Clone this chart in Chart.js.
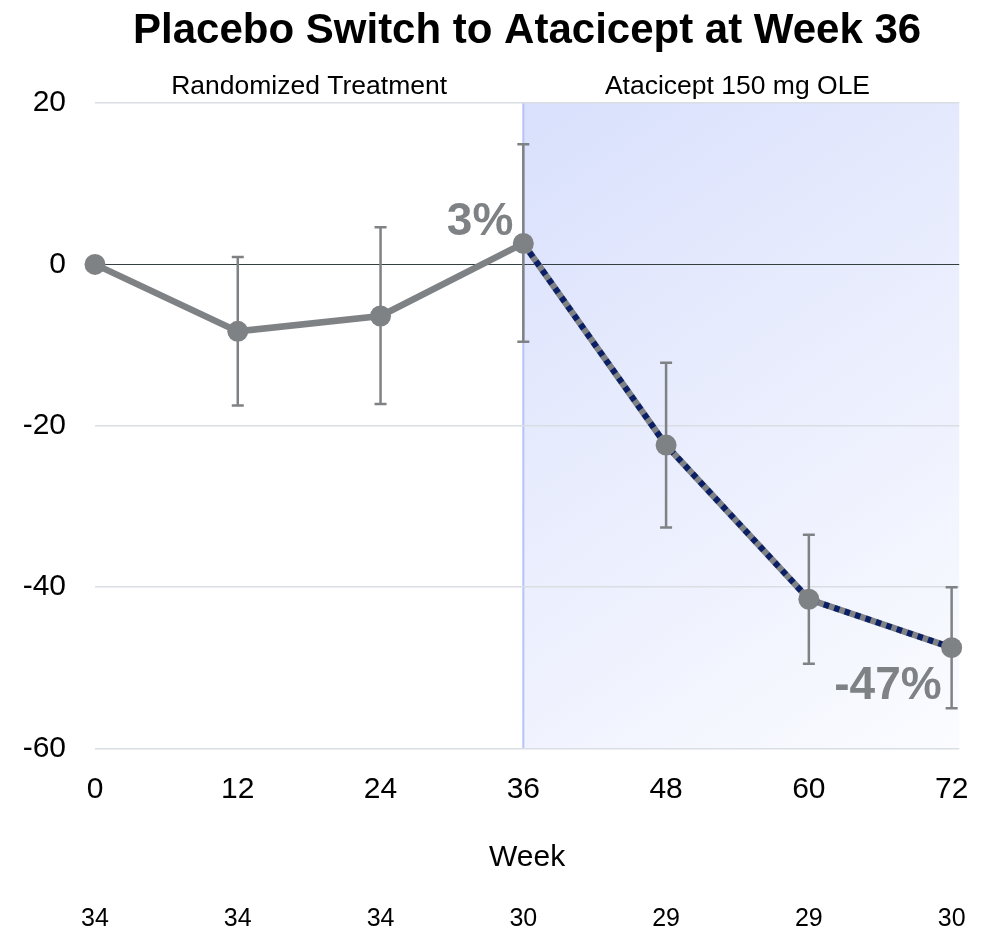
<!DOCTYPE html>
<html>
<head>
<meta charset="utf-8">
<script src="https://cdn.jsdelivr.net/npm/chart.js@4.4.1/dist/chart.umd.min.js"></script>
<style>
  html, body { margin: 0; padding: 0; background: #fff; }
  #wrap { width: 984px; height: 932px; position: relative; }
</style>
</head>
<body>
<div id="wrap"><canvas id="chart"></canvas></div>
<script>
'use strict';

// ---------------------------------------------------------------------------
// Data
// ---------------------------------------------------------------------------
const weeks      = [0, 12, 24, 36, 48, 60, 72];
const meanChange = [0, -8.3, -6.4, 2.6, -22.4, -41.5, -47.5];
const errUpper   = [null, 0.9, 4.6, 14.9, -12.2, -33.5, -40.0];
const errLower   = [null, -17.5, -17.3, -9.6, -32.6, -49.5, -55.0];
const nPatients  = [34, 34, 34, 30, 29, 29, 30];
const pctLabels  = ['', '', '', '3%', '', '', '-47%'];
const xTicks     = [0, 12, 24, 36, 48, 60, 72];
const yTicks     = [-60, -40, -20, 0, 20];
const phaseNames = ['Randomized Treatment', 'Atacicept 150 mg OLE'];
const phaseEdges = [0, 36, 72];
const switchWeek = 36;
const chartTitle = 'Placebo Switch to Atacicept at Week 36';

// ---------------------------------------------------------------------------
// Styles
// ---------------------------------------------------------------------------
const FONT   = "'Liberation Sans', Arial, Helvetica, sans-serif";
const GRAY   = '#7f8285';
const NAVY   = '#0b1f66';
const GRID   = '#d9dee3';
const ZERO   = '#34403f';

const pts = weeks.map((w, i) => ({ x: w, y: meanChange[i] }));
const olePts = weeks.map((w, i) => ({ x: w, y: w >= switchWeek ? meanChange[i] : null }));

// shaded OLE area, separator, error bars, labels
const decorPlugin = {
    id: 'decor',
    beforeDraw(chart) {
        const { ctx, chartArea: a, scales: { x } } = chart;
        const xs = x.getPixelForValue(switchWeek);
        ctx.save();
        const g = ctx.createLinearGradient(xs, a.top, a.right, a.bottom);
        g.addColorStop(0, '#d9e0fc');
        g.addColorStop(1, '#fbfcff');
        ctx.fillStyle = g;
        ctx.fillRect(xs, a.top, a.right - xs, a.bottom - a.top);
        ctx.strokeStyle = '#b6c3f4';
        ctx.lineWidth = 2;
        ctx.beginPath();
        ctx.moveTo(xs, a.top);
        ctx.lineTo(xs, a.bottom);
        ctx.stroke();
        ctx.restore();
    },
    beforeDatasetsDraw(chart) {
        const { ctx, scales: { x, y } } = chart;
        ctx.save();
        ctx.strokeStyle = GRAY;
        ctx.lineWidth = 2.5;
        weeks.forEach((w, i) => {
            if (errUpper[i] == null) return;
            const px = x.getPixelForValue(w);
            const yt = y.getPixelForValue(errUpper[i]);
            const yb = y.getPixelForValue(errLower[i]);
            ctx.beginPath();
            ctx.moveTo(px, yt); ctx.lineTo(px, yb);
            ctx.moveTo(px - 6, yt); ctx.lineTo(px + 6, yt);
            ctx.moveTo(px - 6, yb); ctx.lineTo(px + 6, yb);
            ctx.stroke();
        });
        ctx.restore();
    },
    afterDatasetsDraw(chart) {
        const { ctx, scales: { x, y } } = chart;
        ctx.save();
        ctx.fillStyle = GRAY;
        ctx.font = `bold 46px ${FONT}`;
        ctx.textAlign = 'right';
        ctx.textBaseline = 'alphabetic';
        pctLabels.forEach((t, i) => {
            if (!t) return;
            const px = x.getPixelForValue(weeks[i]);
            const py = y.getPixelForValue(meanChange[i]);
            // above-left when rising, below-left when falling
            const dy = meanChange[i] >= 0 ? -8 : 51;
            ctx.fillText(t, px - 10, py + dy);
        });
        ctx.restore();
    },
    afterDraw(chart) {
        const { ctx, chartArea: a, scales: { x } } = chart;
        ctx.save();
        ctx.fillStyle = '#000';
        ctx.textAlign = 'center';
        ctx.textBaseline = 'middle';
        ctx.font = `bold 42px ${FONT}`;
        ctx.fillText(chartTitle, (a.left + a.right) / 2, 31);
        ctx.font = `26.5px ${FONT}`;
        phaseNames.forEach((t, i) => {
            const cx = x.getPixelForValue((phaseEdges[i] + phaseEdges[i + 1]) / 2);
            ctx.fillText(t, cx, a.top - 16);
        });
        ctx.font = `25px ${FONT}`;
        nPatients.forEach((n, i) => {
            ctx.fillText(String(n), x.getPixelForValue(weeks[i]), 919);
        });
        ctx.restore();
    }
};

new Chart(document.getElementById('chart'), {
    type: 'line',
    data: {
        datasets: [
            {   // markers on top
                data: pts,
                showLine: false,
                pointRadius: 10.5,
                pointBackgroundColor: GRAY,
                pointBorderWidth: 0,
                clip: false,
            },
            {   // navy dashes over the OLE part
                data: olePts,
                borderColor: NAVY,
                borderWidth: 6,
                borderDash: [5.5, 5.5],
                pointRadius: 0,
                spanGaps: false,
                clip: false,
            },
            {   // gray base line
                data: pts,
                borderColor: GRAY,
                borderWidth: 6.5,
                pointRadius: 0,
                clip: false,
            },
        ],
    },
    options: {
        responsive: true,
        maintainAspectRatio: false,
        animation: false,
        events: [],
        layout: { padding: { left: 0, right: 21, top: 103, bottom: 56 } },
        plugins: { legend: { display: false }, title: { display: false }, tooltip: { enabled: false } },
        scales: {
            x: {
                type: 'linear',
                min: 0,
                max: 72.64,
                afterBuildTicks: (s) => { s.ticks = xTicks.map(v => ({ value: v })); },
                grid: { display: false },
                border: { display: false },
                ticks: { font: { family: FONT, size: 30 }, color: '#000', padding: 15.5, maxRotation: 0 },
                title: {
                    display: true, text: 'Week', color: '#000',
                    font: { family: FONT, size: 30 }, padding: { top: 16.5, bottom: 0 },
                },
            },
            y: {
                min: -60,
                max: 20,
                afterBuildTicks: (s) => { s.ticks = yTicks.map(v => ({ value: v })); },
                afterFit: (s) => { s.width = 95; },
                grid: {
                    drawTicks: false,
                    color: (c) => c.tick && c.tick.value === 0 ? ZERO : GRID,
                    lineWidth: (c) => c.tick && c.tick.value === 0 ? 1 : 1.5,
                },
                border: { display: false },
                ticks: { font: { family: FONT, size: 30 }, color: '#000', padding: 29 },
            },
        },
    },
    plugins: [decorPlugin],
});
</script>
</body>
</html>
